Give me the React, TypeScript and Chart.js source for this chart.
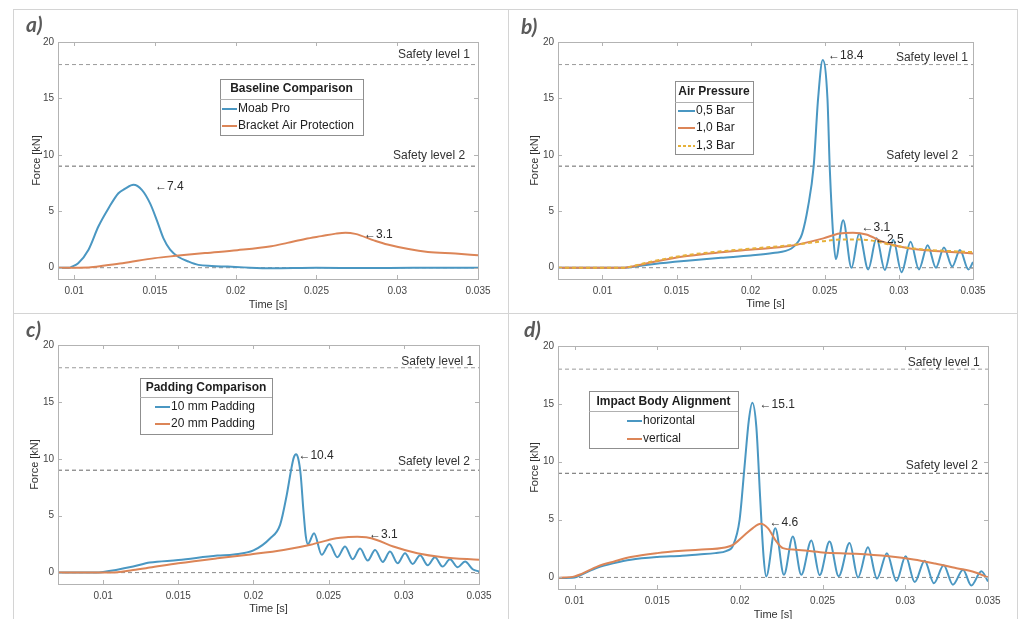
import React, { useEffect, useRef } from "react";
import { Chart, registerables } from "chart.js";

Chart.register(...registerables);

const FONT = "'Liberation Sans', Arial, Helvetica, sans-serif";

// ---------- shared axes ----------
const timeTicks = [0.01, 0.015, 0.02, 0.025, 0.03, 0.035];
const forceTicks = [0, 5, 10, 15, 20];
const safetyLevels = [18, 9];
const safetyNames = ["Safety level 1", "Safety level 2"];
const zeroLevel = 0;

// ---------- a) Baseline Comparison ----------
const aMoabTime = [0.009, 0.0097, 0.00986, 0.01025, 0.01089, 0.0115, 0.01212, 0.01274, 0.01316, 0.01367, 0.01419, 0.0147, 0.01512, 0.01553, 0.01594, 0.01646, 0.01707, 0.01769, 0.01852, 0.0195, 0.0205, 0.0222, 0.025, 0.028, 0.031, 0.035];
const aMoabForce = [0, 0, 0.1, 0.4, 1.6, 3.65, 5.25, 6.6, 7.0, 7.35, 6.9, 5.7, 4.2, 2.6, 1.6, 0.95, 0.55, 0.25, 0.15, 0.1, 0.03, -0.05, 0, -0.03, 0, 0];
const aBracketTime = [0.009, 0.0109, 0.0119, 0.013, 0.015, 0.0163, 0.0181, 0.0201, 0.0222, 0.0232, 0.0243, 0.0253, 0.0262, 0.0268, 0.0274, 0.0286, 0.0294, 0.0307, 0.0319, 0.0336, 0.035];
const aBracketForce = [0, 0.03, 0.2, 0.4, 0.85, 1.05, 1.3, 1.55, 1.9, 2.2, 2.55, 2.8, 3.02, 3.1, 3.0, 2.4, 2.05, 1.65, 1.4, 1.25, 1.1];
const aPeakText = ["\u21907.4", "\u21903.1"];
const aPeakTime = [0.015, 0.02795];
const aPeakForce = [7.2, 2.92];

// ---------- b) Air Pressure ----------
const b05Time = [0.007, 0.0115, 0.0122, 0.0135, 0.0157, 0.018, 0.02, 0.0215, 0.02275, 0.0232, 0.02347, 0.02387, 0.02425, 0.02455, 0.02486, 0.02518, 0.02533, 0.0254, 0.02556, 0.02574, 0.02624, 0.0268, 0.02732, 0.02793, 0.02849, 0.02905, 0.02962, 0.03018, 0.03079, 0.03135, 0.03194, 0.0325, 0.03304, 0.0336, 0.03412, 0.03469, 0.035];
const b05Force = [0, 0, 0.1, 0.33, 0.62, 0.88, 1.08, 1.3, 1.7, 2.3, 3.0, 5.4, 9.0, 15.0, 18.4, 15.0, 9.0, 6.9, 3.0, 0.77, 4.2, 0, 3.04, -0.15, 2.6, -0.2, 2.45, -0.4, 2.3, -0.15, 2.0, 0, 1.8, 0.1, 1.57, -0.15, 0.5];
const b10Time = [0.007, 0.0115, 0.0122, 0.0135, 0.0157, 0.018, 0.0203, 0.0226, 0.0249, 0.026, 0.0269, 0.0278, 0.0289, 0.0301, 0.0316, 0.0332, 0.035];
const b10Force = [0, 0, 0.15, 0.53, 1.03, 1.36, 1.63, 1.92, 2.6, 3.04, 3.1, 2.95, 2.3, 1.86, 1.57, 1.42, 1.27];
const b13Time = [0.007, 0.0115, 0.0122, 0.0135, 0.0157, 0.018, 0.0203, 0.0226, 0.0249, 0.0262, 0.0272, 0.0282, 0.0292, 0.0304, 0.0318, 0.0334, 0.035];
const b13Force = [0, 0, 0.2, 0.6, 1.12, 1.45, 1.72, 1.98, 2.35, 2.5, 2.5, 2.4, 2.1, 1.8, 1.6, 1.48, 1.38];
const bPeakText = ["\u219018.4", "\u21903.1", "\u21902.5"];
const bPeakTime = [0.02522, 0.02748, 0.02838];
const bPeakForce = [18.75, 3.54, 2.51];

// ---------- c) Padding Comparison ----------
const c10Time = [0.007, 0.0095, 0.01, 0.012, 0.0131, 0.015, 0.0176, 0.0187, 0.02, 0.0211, 0.02177, 0.02221, 0.0225, 0.02268, 0.02283, 0.02298, 0.02314, 0.02332, 0.02348, 0.02362, 0.02403, 0.02454, 0.02505, 0.02558, 0.02609, 0.0266, 0.02709, 0.0276, 0.02809, 0.0286, 0.02908, 0.02959, 0.03008, 0.03059, 0.03108, 0.03159, 0.03207, 0.03258, 0.03307, 0.03358, 0.03407, 0.03458, 0.035];
const c10Force = [0, 0, 0.05, 0.53, 0.88, 1.1, 1.5, 1.6, 1.95, 3.0, 4.2, 6.8, 9.0, 10.1, 10.4, 10.0, 8.6, 5.5, 3.2, 2.5, 3.46, 1.56, 2.52, 1.35, 2.29, 1.17, 2.11, 1.06, 1.99, 0.94, 1.85, 0.82, 1.7, 0.76, 1.53, 0.65, 1.35, 0.53, 1.17, 0.47, 0.97, 0.3, 0.1];
const c20Time = [0.007, 0.0105, 0.012, 0.0131, 0.015, 0.0176, 0.0198, 0.022, 0.0238, 0.025, 0.0255, 0.0263, 0.0269, 0.0275, 0.0282, 0.0293, 0.0309, 0.0326, 0.035];
const c20Force = [0, 0, 0.23, 0.44, 0.82, 1.26, 1.6, 1.99, 2.45, 2.87, 3.02, 3.12, 3.16, 3.1, 2.87, 2.29, 1.7, 1.35, 1.12];
const cPeakText = ["\u219010.4", "\u21903.1"];
const cPeakTime = [0.02299, 0.02769];
const cPeakForce = [10.25, 3.31];

// ---------- d) Impact Body Alignment ----------
const dHorTime = [0.009, 0.01, 0.0104, 0.0114, 0.0124, 0.0134, 0.015, 0.0165, 0.0175, 0.0185, 0.0192, 0.01958, 0.01998, 0.02028, 0.02054, 0.02075, 0.02099, 0.02123, 0.02143, 0.02159, 0.02214, 0.02266, 0.0232, 0.02371, 0.02432, 0.02482, 0.02542, 0.02597, 0.02663, 0.02714, 0.02774, 0.02829, 0.02889, 0.02946, 0.03002, 0.03057, 0.03117, 0.03173, 0.03232, 0.03288, 0.03349, 0.03399, 0.0346, 0.035];
const dHorForce = [-0.05, 0, 0.23, 0.85, 1.24, 1.53, 1.76, 1.87, 1.99, 2.1, 2.3, 2.75, 4.98, 9.6, 13.6, 15.1, 13.05, 6.7, 1.8, 0.09, 4.26, 0.23, 3.54, 0.23, 3.2, 0.2, 3.1, 0.1, 2.97, 0.0, 2.6, -0.1, 2.1, -0.3, 1.82, -0.4, 1.45, -0.5, 1.05, -0.63, 0.67, -0.7, 0.53, -0.35];
const dVerTime = [0.009, 0.01, 0.0104, 0.0114, 0.0124, 0.0134, 0.015, 0.0165, 0.0175, 0.0191, 0.01958, 0.02018, 0.02078, 0.02125, 0.02169, 0.0222, 0.0226, 0.0234, 0.025, 0.027, 0.029, 0.0305, 0.0318, 0.0331, 0.0342, 0.035];
const dVerForce = [-0.05, 0.09, 0.29, 0.95, 1.38, 1.76, 2.1, 2.3, 2.39, 2.59, 2.82, 3.54, 4.26, 4.64, 4.26, 3.11, 2.53, 2.39, 2.16, 2.04, 1.82, 1.55, 1.2, 0.8, 0.45, 0.0];
const dPeakText = ["\u219015.1", "\u21904.6"];
const dPeakTime = [0.02119, 0.02179];
const dPeakForce = [14.91, 4.7];

// ---------- styles ----------
const BLUE = "#4a97c2";
const ORANGE = "#dc8557";
const YELLOW = "#e6b13a";

type Series = { label: string; time: number[]; force: number[]; color: string; dash?: number[]; order: number };
type Rect = { left: number; top: number; width: number; height: number };
type Area = { left: number; top: number; right: number; bottom: number };
type Legend = { title: string; x: number; y: number; w: number; h: number; titleY: number; sepY: number; entryY: number[]; lineX0: number; lineX1: number; textX: number };
type Panel = {
  name: string;
  tag: { x: number; y: number };
  canvas: Rect;
  area: Area;
  xMin: number;
  xMax: number;
  yMin: number;
  yMax: number;
  yTitleX: number;
  xTitleY: number;
  series: Series[];
  legend: Legend;
  peakText: string[];
  peakTime: number[];
  peakForce: number[];
  safetyTextTime: number[];
  safetyTextForce: number[];
};

const panels: Panel[] = [
  {
    name: "a",
    tag: { x: 26, y: 13 },
    canvas: { left: 13, top: 9, width: 495, height: 304 },
    area: { left: 58, top: 42, right: 478, bottom: 279 },
    xMin: 0.009, xMax: 0.035, yMin: -1, yMax: 20,
    yTitleX: 37, xTitleY: 305,
    series: [
      { label: "Moab Pro", time: aMoabTime, force: aMoabForce, color: BLUE, order: 3 },
      { label: "Bracket Air Protection", time: aBracketTime, force: aBracketForce, color: ORANGE, order: 2 },
    ],
    legend: { title: "Baseline Comparison", x: 220, y: 79, w: 143, h: 56, titleY: 89, sepY: 99, entryY: [109, 126], lineX0: 222, lineX1: 237, textX: 238 },
    peakText: aPeakText, peakTime: aPeakTime, peakForce: aPeakForce,
    safetyTextTime: [0.0345, 0.0342], safetyTextForce: [18.9, 9.9],
  },
  {
    name: "b",
    tag: { x: 521, y: 15 },
    canvas: { left: 508, top: 9, width: 509, height: 304 },
    area: { left: 558, top: 42, right: 973, bottom: 279 },
    xMin: 0.007, xMax: 0.035, yMin: -1, yMax: 20,
    yTitleX: 535, xTitleY: 304,
    series: [
      { label: "0,5 Bar", time: b05Time, force: b05Force, color: BLUE, order: 3 },
      { label: "1,0 Bar", time: b10Time, force: b10Force, color: ORANGE, order: 2 },
      { label: "1,3 Bar", time: b13Time, force: b13Force, color: YELLOW, dash: [4, 3], order: 1 },
    ],
    legend: { title: "Air Pressure", x: 675, y: 81, w: 78, h: 73, titleY: 92, sepY: 102, entryY: [111, 128, 146], lineX0: 678, lineX1: 695, textX: 696 },
    peakText: bPeakText, peakTime: bPeakTime, peakForce: bPeakForce,
    safetyTextTime: [0.03466, 0.034], safetyTextForce: [18.6, 9.9],
  },
  {
    name: "c",
    tag: { x: 26, y: 318 },
    canvas: { left: 13, top: 313, width: 495, height: 320 },
    area: { left: 58, top: 345, right: 479, bottom: 584 },
    xMin: 0.007, xMax: 0.035, yMin: -1, yMax: 20,
    yTitleX: 35, xTitleY: 609,
    series: [
      { label: "10 mm Padding", time: c10Time, force: c10Force, color: BLUE, order: 3 },
      { label: "20 mm Padding", time: c20Time, force: c20Force, color: ORANGE, order: 2 },
    ],
    legend: { title: "Padding Comparison", x: 140, y: 378, w: 132, h: 56, titleY: 388, sepY: 397, entryY: [407, 424], lineX0: 155, lineX1: 170, textX: 171 },
    peakText: cPeakText, peakTime: cPeakTime, peakForce: cPeakForce,
    safetyTextTime: [0.03462, 0.0344], safetyTextForce: [18.54, 9.75],
  },
  {
    name: "d",
    tag: { x: 524, y: 318 },
    canvas: { left: 508, top: 313, width: 509, height: 320 },
    area: { left: 558, top: 346, right: 988, bottom: 589 },
    xMin: 0.009, xMax: 0.035, yMin: -1, yMax: 20,
    yTitleX: 535, xTitleY: 615,
    series: [
      { label: "horizontal", time: dHorTime, force: dHorForce, color: BLUE, order: 3 },
      { label: "vertical", time: dVerTime, force: dVerForce, color: ORANGE, order: 2 },
    ],
    legend: { title: "Impact Body Alignment", x: 589, y: 391, w: 149, h: 57, titleY: 402, sepY: 411, entryY: [421, 439], lineX0: 627, lineX1: 642, textX: 643 },
    peakText: dPeakText, peakTime: dPeakTime, peakForce: dPeakForce,
    safetyTextTime: [0.0345, 0.03439], safetyTextForce: [18.6, 9.67],
  },
];

const refColors = ["#9a9a9a", "#666666"];

function PanelChart({ panel }: { panel: Panel }) {
  const ref = useRef<HTMLCanvasElement | null>(null);

  useEffect(() => {
    if (!ref.current) return;
    const c = panel.canvas;
    const a = panel.area;
    const yAxisW = a.left - c.left;
    const padTop = a.top - c.top;
    const padRight = c.left + c.width - a.right;
    const xAxisH = c.top + c.height - a.bottom;
    const titleLH = 11 * 1.2;
    const xTitlePad = c.top + c.height - panel.xTitleY - titleLH / 2;
    const yTitlePad = panel.yTitleX - c.left - titleLH / 2;

    const curveSets = panel.series.map((s) => ({
      label: s.label,
      data: s.time.map((t, i) => ({ x: t, y: s.force[i] })),
      borderColor: s.color,
      borderWidth: 2,
      borderDash: s.dash || [],
      pointRadius: 0,
      fill: false,
      cubicInterpolationMode: "monotone" as const,
      order: s.order,
    }));
    const refSets = safetyLevels.map((lvl, i) => ({
      label: safetyNames[i],
      data: [{ x: panel.xMin, y: lvl }, { x: panel.xMax, y: lvl }],
      borderColor: refColors[i],
      borderWidth: 1,
      borderDash: [4, 3],
      pointRadius: 0,
      fill: false,
      order: 10,
    }));
    const zeroSet = {
      label: "zero",
      data: [{ x: panel.xMin, y: zeroLevel }, { x: panel.xMax, y: zeroLevel }],
      borderColor: "#8a8a8a",
      borderWidth: 1,
      borderDash: [4, 3],
      pointRadius: 0,
      fill: false,
      order: 11,
    };

    const overlay = {
      id: "matlabOverlay",
      afterDraw(chart: any) {
        const ctx = chart.ctx as CanvasRenderingContext2D;
        const { left, top, right, bottom } = chart.chartArea;
        const xs = chart.scales.x;
        const ys = chart.scales.y;
        ctx.save();
        // box
        ctx.strokeStyle = "#b3b3b3";
        ctx.lineWidth = 1;
        ctx.strokeRect(Math.round(left) + 0.5, Math.round(top) + 0.5, Math.round(right - left), Math.round(bottom - top));
        ctx.beginPath();
        for (const v of timeTicks) {
          const px = Math.round(xs.getPixelForValue(v)) + 0.5;
          ctx.moveTo(px, bottom);
          ctx.lineTo(px, bottom - 4);
          ctx.moveTo(px, top);
          ctx.lineTo(px, top + 4);
        }
        for (const v of forceTicks) {
          const py = Math.round(ys.getPixelForValue(v)) + 0.5;
          ctx.moveTo(left, py);
          ctx.lineTo(left + 4, py);
          ctx.moveTo(right, py);
          ctx.lineTo(right - 4, py);
        }
        ctx.stroke();

        // safety level texts
        ctx.font = `12px ${FONT}`;
        ctx.fillStyle = "#333333";
        ctx.textAlign = "right";
        ctx.textBaseline = "middle";
        safetyNames.forEach((n, i) => {
          ctx.fillText(n, xs.getPixelForValue(panel.safetyTextTime[i]), ys.getPixelForValue(panel.safetyTextForce[i]));
        });

        // peak annotations
        ctx.textAlign = "left";
        ctx.font = `12px ${FONT}`;
        ctx.fillStyle = "#2b2b2b";
        panel.peakText.forEach((t, i) => {
          ctx.fillText(t, xs.getPixelForValue(panel.peakTime[i]), ys.getPixelForValue(panel.peakForce[i]));
        });

        // legend
        const L = panel.legend;
        const ox = c.left;
        const oy = c.top;
        const lx = L.x - ox;
        const ly = L.y - oy;
        ctx.fillStyle = "#ffffff";
        ctx.fillRect(lx, ly, L.w, L.h);
        ctx.strokeStyle = "#8f8f8f";
        ctx.lineWidth = 1;
        ctx.strokeRect(lx + 0.5, ly + 0.5, L.w, L.h);
        ctx.beginPath();
        ctx.moveTo(lx, L.sepY - oy + 0.5);
        ctx.lineTo(lx + L.w, L.sepY - oy + 0.5);
        ctx.strokeStyle = "#b0b0b0";
        ctx.stroke();
        ctx.font = `bold 12px ${FONT}`;
        ctx.fillStyle = "#1e1e1e";
        ctx.textAlign = "center";
        ctx.fillText(L.title, lx + L.w / 2, L.titleY - oy);
        ctx.font = `12px ${FONT}`;
        ctx.textAlign = "left";
        panel.series.forEach((s, i) => {
          const ey = L.entryY[i] - oy;
          ctx.beginPath();
          ctx.strokeStyle = s.color;
          ctx.lineWidth = 2;
          ctx.setLineDash(s.dash ? [3, 2] : []);
          ctx.moveTo(L.lineX0 - ox, ey);
          ctx.lineTo(L.lineX1 - ox, ey);
          ctx.stroke();
          ctx.setLineDash([]);
          ctx.fillStyle = "#1e1e1e";
          ctx.fillText(s.label, L.textX - ox, ey);
        });
        ctx.restore();
      },
    };

    const chart = new Chart(ref.current, {
      type: "line",
      data: { datasets: [...curveSets, ...refSets, zeroSet] as any },
      options: {
        animation: false,
        responsive: true,
        maintainAspectRatio: false,
        events: [],
        layout: { padding: { left: 0, top: padTop, right: padRight, bottom: 0 } },
        plugins: { legend: { display: false }, tooltip: { enabled: false } },
        scales: {
          x: {
            type: "linear",
            min: panel.xMin,
            max: panel.xMax,
            afterBuildTicks: (axis: any) => {
              axis.ticks = timeTicks.map((v) => ({ value: v }));
            },
            afterFit: (axis: any) => {
              axis.height = xAxisH;
            },
            grid: { display: false, drawTicks: false },
            border: { display: false },
            ticks: {
              color: "#454545",
              font: { family: FONT, size: 10 },
              padding: 6,
              maxRotation: 0,
              autoSkip: false,
              callback: (v: any) => String(v),
            },
            title: {
              display: true,
              text: "Time [s]",
              color: "#333333",
              font: { family: FONT, size: 11 },
              padding: { top: 0, bottom: xTitlePad },
            },
          },
          y: {
            type: "linear",
            min: panel.yMin,
            max: panel.yMax,
            afterBuildTicks: (axis: any) => {
              axis.ticks = forceTicks.map((v) => ({ value: v }));
            },
            afterFit: (axis: any) => {
              axis.width = yAxisW;
            },
            grid: { display: false, drawTicks: false },
            border: { display: false },
            ticks: {
              color: "#454545",
              font: { family: FONT, size: 10 },
              padding: 4,
              autoSkip: false,
              callback: (v: any) => String(v),
            },
            title: {
              display: true,
              text: "Force [kN]",
              color: "#333333",
              font: { family: FONT, size: 11 },
              padding: { top: yTitlePad, bottom: 0 },
            },
          },
        },
      } as any,
      plugins: [overlay],
    });
    return () => chart.destroy();
  }, [panel]);

  const c = panel.canvas;
  return (
    <div style={{ position: "absolute", left: c.left, top: c.top, width: c.width, height: c.height }}>
      <canvas ref={ref} />
    </div>
  );
}

const frames = [
  { left: 13, top: 9, width: 496, height: 305 },
  { left: 508, top: 9, width: 510, height: 305 },
  { left: 13, top: 313, width: 496, height: 330 },
  { left: 508, top: 313, width: 510, height: 330 },
];

export default function App() {
  return (
    <div
      style={{
        position: "absolute",
        left: 0,
        top: 0,
        width: 1029,
        height: 619,
        overflow: "hidden",
        background: "#ffffff",
        fontFamily: FONT,
      }}
    >
      {frames.map((f, i) => (
        <div
          key={"f" + i}
          style={{
            position: "absolute",
            left: f.left,
            top: f.top,
            width: f.width,
            height: f.height,
            border: "1px solid #d4d4d4",
            boxSizing: "border-box",
          }}
        />
      ))}
      {panels.map((p) => (
        <PanelChart key={p.name} panel={p} />
      ))}
      {panels.map((p) => (
        <div
          key={"t" + p.name}
          style={{
            position: "absolute",
            left: p.tag.x,
            top: p.tag.y,
            fontFamily: "Lato, 'Open Sans', sans-serif",
            fontStyle: "italic",
            fontWeight: 700,
            fontSize: 21,
            lineHeight: 1,
            color: "#5a5a5a",
          }}
        >
          {p.name + ")"}
        </div>
      ))}
    </div>
  );
}
